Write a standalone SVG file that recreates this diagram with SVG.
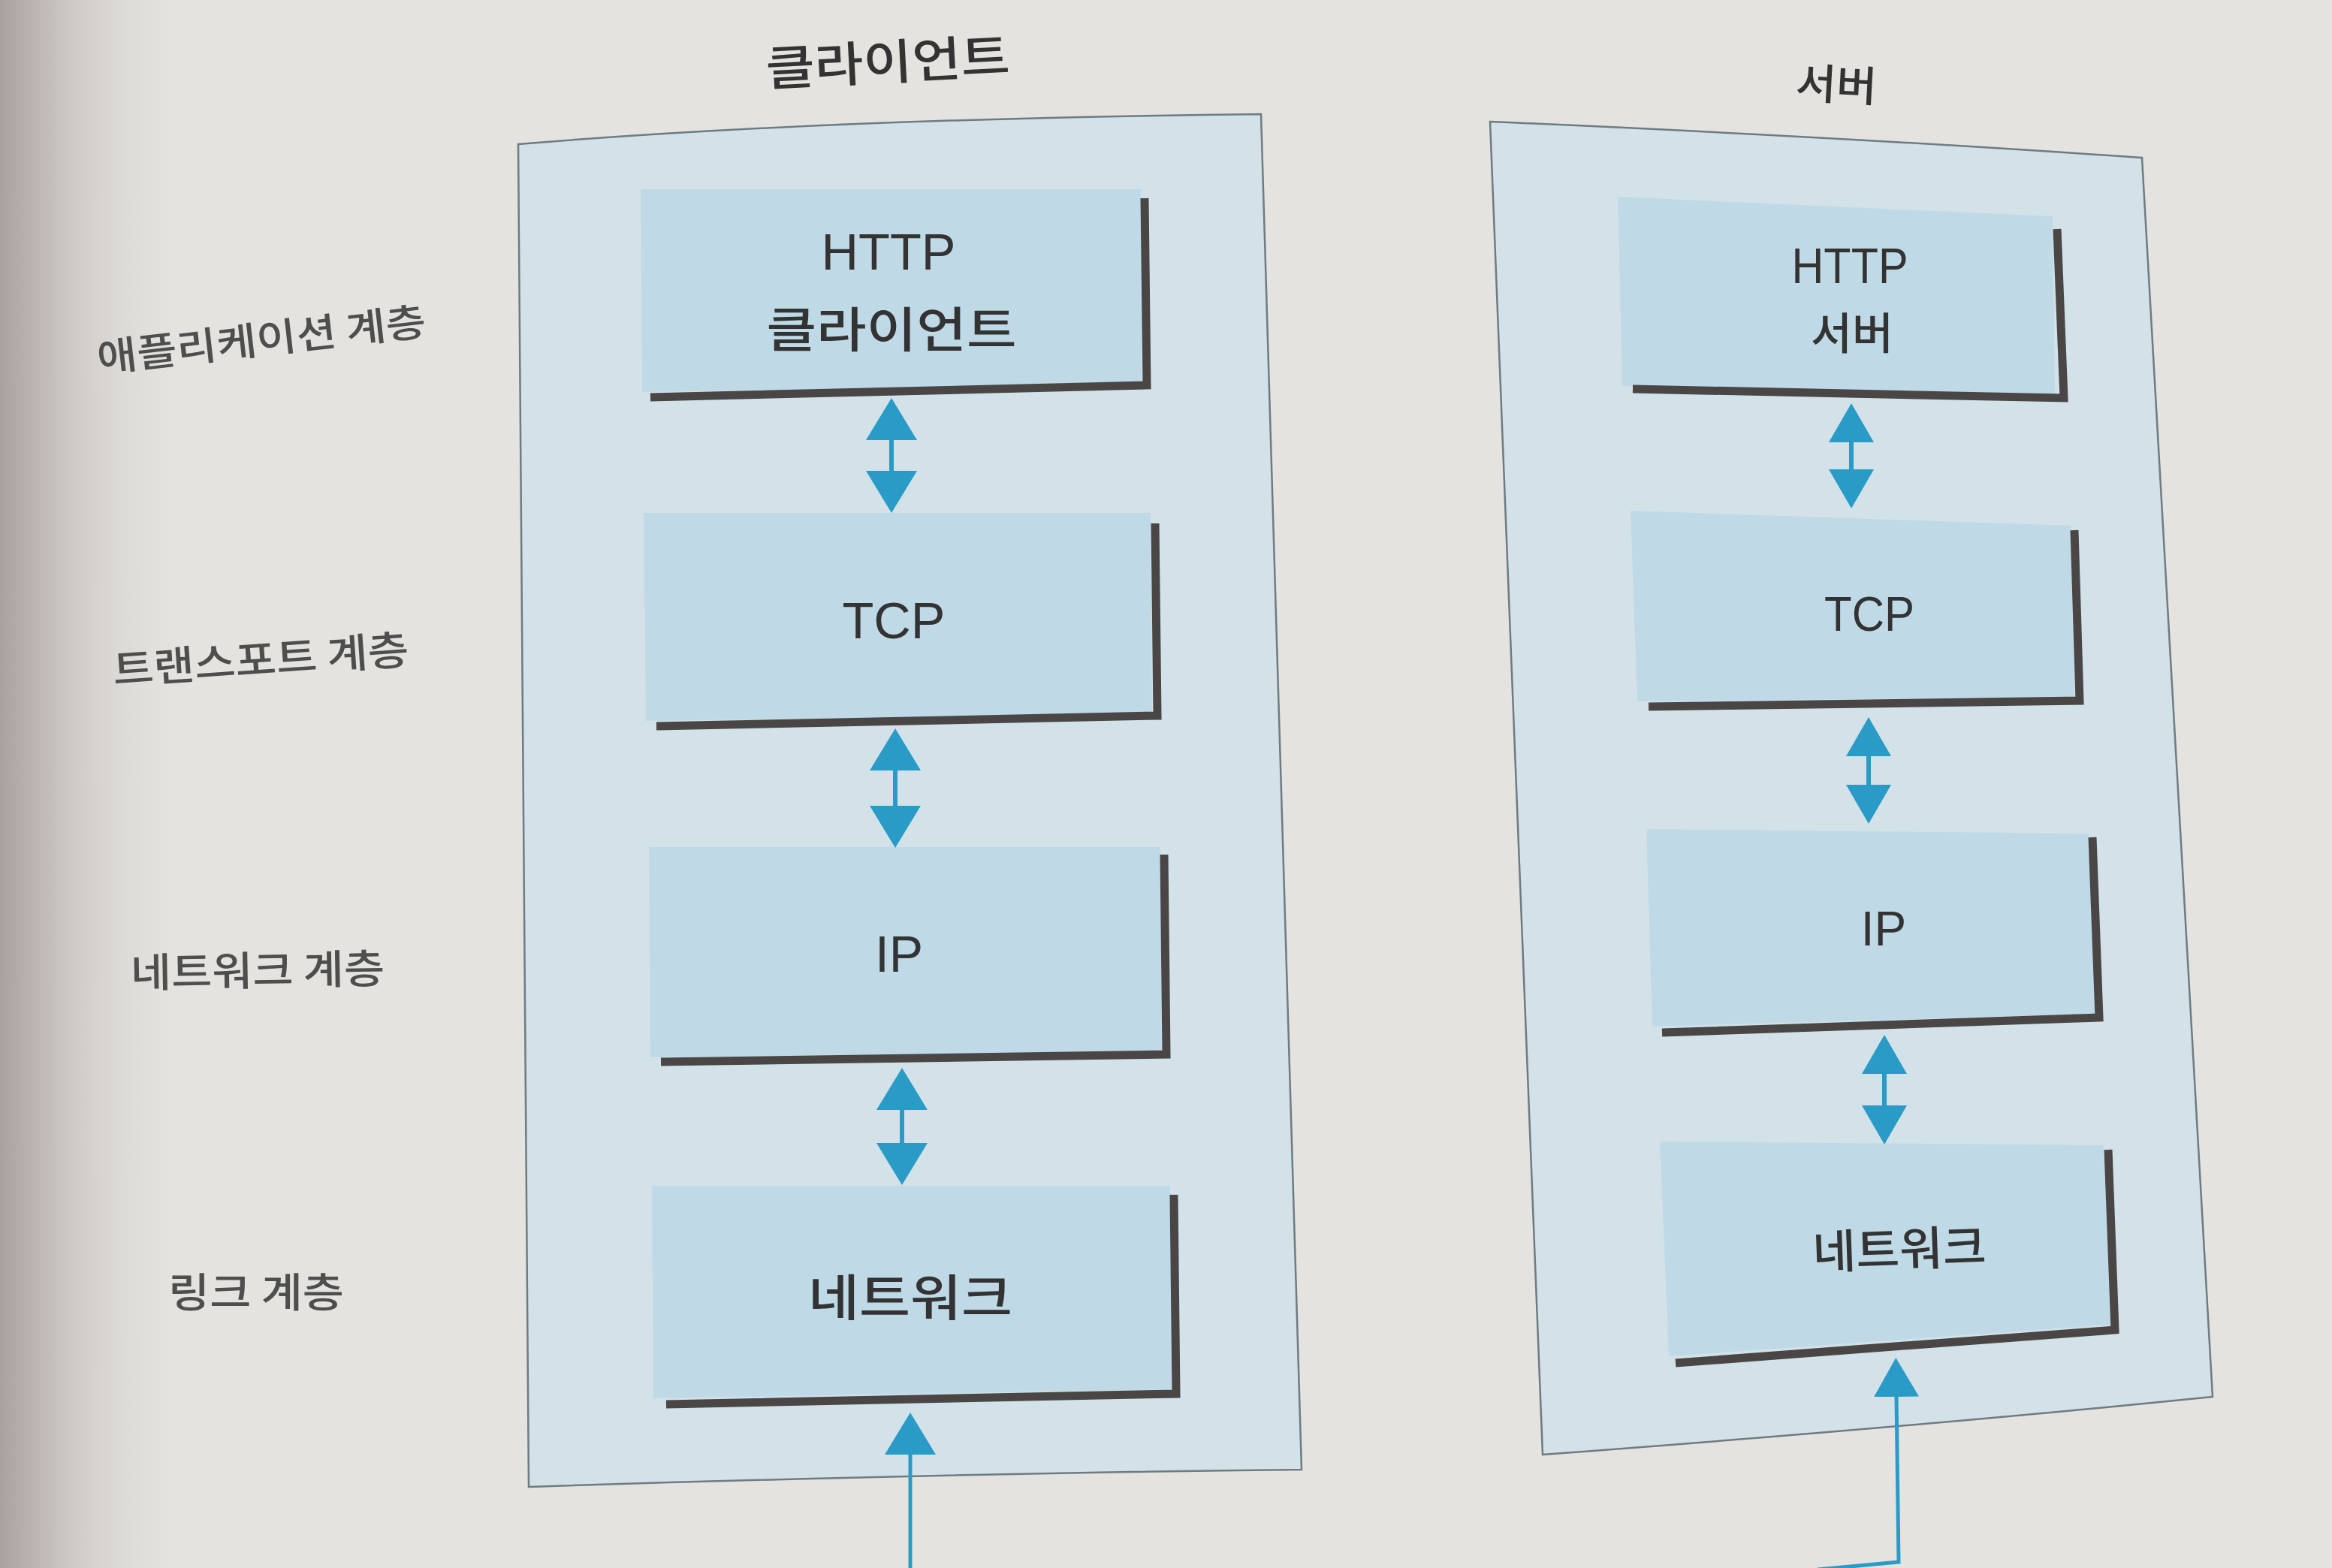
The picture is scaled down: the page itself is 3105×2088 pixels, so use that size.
<svg xmlns="http://www.w3.org/2000/svg" width="3105" height="2088" viewBox="0 0 3105 2088">
<defs>
<linearGradient id="binding" x1="0" y1="0" x2="1" y2="0">
<stop offset="0" stop-color="#a9a19f"/>
<stop offset="0.35" stop-color="#cdc8c5"/>
<stop offset="1" stop-color="#e4e3df" stop-opacity="0"/>
</linearGradient>
<marker id="head" markerUnits="userSpaceOnUse" viewBox="0 0 56 68" markerWidth="56" markerHeight="68" refX="0" refY="34" orient="auto-start-reverse">
<path d="M0,0 L56,34 L0,68 Z" fill="#2a9bc6"/>
</marker>
<marker id="headS" markerUnits="userSpaceOnUse" viewBox="0 0 52 60" markerWidth="52" markerHeight="60" refX="0" refY="30" orient="auto-start-reverse">
<path d="M0,0 L52,30 L0,60 Z" fill="#2a9bc6"/>
</marker>
<style>
.page{fill:#e4e3df}
.panel{fill:#d3e2e9;stroke:#6e7c82;stroke-width:2.5}
.box{fill:#bfdae6}
.shadow{fill:none;stroke:#4a4646;stroke-width:11;stroke-linejoin:miter}
.conn{fill:none;stroke:#2a9bc6;stroke-width:6}
.link{fill:none;stroke:#2a9bc6;stroke-width:5}
.lat{font-family:"Liberation Sans","Noto Sans",sans-serif;fill:#333;text-anchor:middle}
.kr{font-family:"Noto Sans CJK KR","Noto Sans",sans-serif;font-weight:500;fill:#333;text-anchor:middle}
.lbl{font-family:"Noto Sans CJK KR","Noto Sans",sans-serif;font-weight:500;fill:#4e4e4e;text-anchor:middle}
</style>
</defs>

<rect class="page" x="0" y="0" width="3105" height="2088"/>
<rect x="0" y="0" width="260" height="2088" fill="url(#binding)"/>

<g id="layer-labels">
<text class="lbl" x="348" y="471" font-size="52" textLength="440" lengthAdjust="spacingAndGlyphs" transform="rotate(-6.5 348 452)">애플리케이션 계층</text>
<text class="lbl" x="347" y="898" font-size="54" textLength="395" lengthAdjust="spacingAndGlyphs" transform="rotate(-4 347 878)">트랜스포트 계층</text>
<text class="lbl" x="343" y="1312" font-size="54" textLength="338" lengthAdjust="spacingAndGlyphs" transform="rotate(-1 343 1292)">네트워크 계층</text>
<text class="lbl" x="341" y="1741" font-size="54" textLength="234" lengthAdjust="spacingAndGlyphs">링크 계층</text>
</g>

<g id="client">
<text class="kr" x="1182" y="106" font-size="64" textLength="325" lengthAdjust="spacingAndGlyphs" fill="#4a4a4a" transform="rotate(-3 1182 83)">클라이언트</text>
<path class="panel" d="M690,192 Q1100,158 1679,152 L1733,1957 Q1250,1962 704,1980 Z"/>
</g>

<g id="server">
<text class="kr" x="2445" y="133" font-size="56" textLength="108" lengthAdjust="spacingAndGlyphs" fill="#4a4a4a" transform="rotate(3 2445 112)">서버</text>
<path class="panel" d="M1984,162 Q2450,182 2852,210 L2946,1860 Q2550,1900 2054,1937 Z"/>
</g>

<g id="client-http">
<polygon class="box" points="853,252 1519,252 1520,512 855,522"/>
<polyline class="shadow" points="1524,264 1527,513 866,529"/>
<text class="lat" x="1183" y="359" font-size="68" textLength="179" lengthAdjust="spacingAndGlyphs">HTTP</text>
<text class="kr" x="1187" y="462" font-size="64" textLength="333" lengthAdjust="spacingAndGlyphs">클라이언트</text>
</g>

<g id="client-tcp">
<polygon class="box" points="857,683 1532,683 1534,950 860,960"/>
<polyline class="shadow" points="1538,697 1541,953 874,967"/>
<text class="lat" x="1190" y="850" font-size="68" textLength="137" lengthAdjust="spacingAndGlyphs">TCP</text>
</g>

<g id="client-ip">
<polygon class="box" points="864,1128 1545,1128 1547,1400 866,1408"/>
<polyline class="shadow" points="1550,1138 1553,1404 880,1414"/>
<text class="lat" x="1197" y="1294" font-size="68">IP</text>
</g>

<g id="client-network">
<polygon class="box" points="868,1579 1558,1579 1560,1850 870,1862"/>
<polyline class="shadow" points="1563,1591 1566,1856 887,1870"/>
<text class="kr" x="1212" y="1752" font-size="66" textLength="272" lengthAdjust="spacingAndGlyphs">네트워크</text>
</g>

<g id="server-http">
<polygon class="box" points="2154,262 2733,288 2736,524 2160,514"/>
<polyline class="shadow" points="2739,305 2748,530 2174,518"/>
<text class="lat" x="2463" y="377" font-size="66" textLength="155" lengthAdjust="spacingAndGlyphs">HTTP</text>
<text class="kr" x="2466" y="465" font-size="58" textLength="110" lengthAdjust="spacingAndGlyphs">서버</text>
</g>

<g id="server-tcp">
<polygon class="box" points="2171,680 2757,700 2762,928 2180,934"/>
<polyline class="shadow" points="2762,706 2769,933 2195,941"/>
<text class="lat" x="2489" y="840" font-size="64" textLength="120" lengthAdjust="spacingAndGlyphs">TCP</text>
</g>

<g id="server-ip">
<polygon class="box" points="2192,1104 2781,1110 2790,1350 2200,1367"/>
<polyline class="shadow" points="2786,1115 2795,1355 2213,1375"/>
<text class="lat" x="2508" y="1259" font-size="64">IP</text>
</g>

<g id="server-network">
<polygon class="box" points="2210,1520 2801,1525 2810,1764 2222,1806"/>
<polyline class="shadow" points="2807,1531 2816,1771 2231,1815"/>
<text class="kr" x="2529" y="1686" font-size="62" textLength="231" lengthAdjust="spacingAndGlyphs" transform="rotate(-2 2529 1663)">네트워크</text>
</g>

<g id="connectors">
<line class="conn" x1="1187" y1="586" x2="1187" y2="627" marker-start="url(#head)" marker-end="url(#head)"/>
<line class="conn" x1="1192" y1="1026" x2="1192" y2="1073" marker-start="url(#head)" marker-end="url(#head)"/>
<line class="conn" x1="1201" y1="1478" x2="1201" y2="1522" marker-start="url(#head)" marker-end="url(#head)"/>
<polyline class="link" points="1212,2088 1212,1937" marker-end="url(#head)"/>

<line class="conn" x1="2465" y1="589" x2="2465" y2="625" marker-start="url(#headS)" marker-end="url(#headS)"/>
<line class="conn" x1="2488" y1="1007" x2="2488" y2="1045" marker-start="url(#headS)" marker-end="url(#headS)"/>
<line class="conn" x1="2509" y1="1430" x2="2509" y2="1472" marker-start="url(#headS)" marker-end="url(#headS)"/>
<polyline class="link" points="2420,2090 2528,2080 2525,1860" marker-end="url(#headS)"/>
</g>
</svg>
